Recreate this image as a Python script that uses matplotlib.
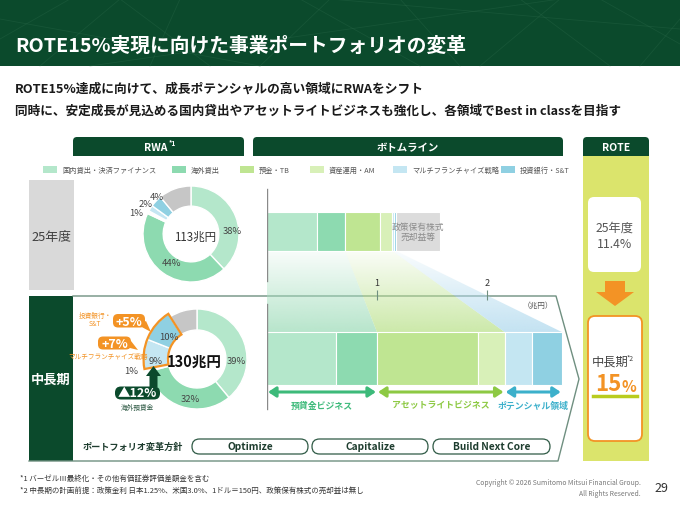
import numpy as np
import matplotlib
matplotlib.use("Agg")
import matplotlib.pyplot as plt
from matplotlib.patches import Rectangle, FancyBboxPatch, Polygon, Wedge
from matplotlib.colors import to_rgb

plt.rcParams['font.family'] = ['Noto Sans CJK JP', 'DejaVu Sans']

W, H = 680, 506
DG = "#0b4a2c"          # dark green
ORANGE = "#f39325"
FRAME = "#6f8f80"

# ---- data -------------------------------------------------------------
segments = ["国内貸出・決済ファイナンス", "海外貸出", "預金・TB", "資産運用・AM",
            "マルチフランチャイズ戦略", "投資銀行・S&T"]
seg_colors = ["#b4e7cb", "#8ddab0", "#bfe592", "#d8f0b8", "#c4e6f2", "#8fd0e2"]
other_pie = "#c6c6c6"
other_bar = "#dcdcdc"

# RWA mix (%), last value = その他
rwa_fy25 = [38, 44, 0.5, 0.5, 2, 4, 11]
rwa_mid = [39, 32, 0.5, 0.5, 9, 10, 9]
rwa_total = ["113兆円", "130兆円"]

# bottom line (兆円)
bl_fy25 = [0.45, 0.26, 0.32, 0.11, 0.01, 0.025]
bl_fy25_other = 0.40
bl_mid = [0.63, 0.37, 0.92, 0.24, 0.25, 0.27]
axis_ticks = [1, 2]

rote_fy25 = "11.4%"
rote_mid = "15"
business = ["預貸金ビジネス", "アセットライトビジネス", "ポテンシャル領域"]
business_colors = ["#3dba7a", "#8dc943", "#3cb0cb"]
business_groups = [(0, 2), (2, 4), (4, 6)]
pills = ["Optimize", "Capitalize", "Build Next Core"]

fig = plt.figure(figsize=(W / 100, H / 100), dpi=100)


def px_axes(x0, y0, x1, y1):
    return fig.add_axes([x0 / W, 1 - y1 / H, (x1 - x0) / W, (y1 - y0) / H])


def pixel_canvas():
    a = px_axes(0, 0, W, H)
    a.set_xlim(0, W)
    a.set_ylim(H, 0)
    a.axis("off")
    return a


bg = pixel_canvas()

# header band
bg.add_patch(Rectangle((0, 0), W, 67, fc=DG, ec="none"))
mesh = [[(0, 40), (70, 0)], [(40, 67), (120, 0)], [(120, 0), (210, 67)],
        [(180, 0), (150, 67)], [(260, 67), (330, 0)], [(300, 0), (420, 67)],
        [(400, 0), (460, 67)], [(480, 67), (560, 0)], [(520, 0), (610, 67)],
        [(600, 0), (680, 45)], [(640, 67), (680, 20)], [(0, 20), (260, 67)],
        [(330, 0), (680, 30)], [(90, 67), (560, 0)]]
for (x0, y0), (x1, y1) in mesh:
    bg.plot([x0, x1], [y0, y1], color="#2c6a4b", lw=0.6, alpha=0.35)
bg.text(15, 46, "ROTE15%実現に向けた事業ポートフォリオの変革", color="white",
        fontsize=14.2, fontweight="bold", va="center")

bg.text(15, 89, "ROTE15%達成に向けて、成長ポテンシャルの高い領域にRWAをシフト",
        fontsize=9.2, fontweight="bold", color="#1a1a1a", va="center")
bg.text(15, 111, "同時に、安定成長が見込める国内貸出やアセットライトビジネスも強化し、各領域でBest in classを目指す",
        fontsize=9.1, fontweight="bold", color="#1a1a1a", va="center")


# section headers
def header(x0, x1, label, dx=0):
    bg.add_patch(FancyBboxPatch((x0, 138), x1 - x0, 19,
                                boxstyle="round,pad=0,rounding_size=4", fc=DG, ec="none"))
    bg.add_patch(Rectangle((x0, 149), x1 - x0, 8, fc=DG, ec="none"))
    bg.text((x0 + x1) / 2 + dx, 148, label, color="white", fontsize=7.5,
            fontweight="bold", ha="center", va="center")


header(73, 244, "RWA", dx=-3)
bg.text(169, 143, "*1", color="white", fontsize=4.8, fontweight="bold", va="center")
header(253, 563, "ボトムライン")
# ROTE column
bg.add_patch(Rectangle((583, 155), 66, 307, fc="#dbe46c", ec="none"))
header(583, 649, "ROTE")

# legend
legend_x = [43, 172, 240, 310, 393, 501]
for x, lab, c in zip(legend_x, segments, seg_colors):
    bg.add_patch(Rectangle((x, 167), 14, 7, fc=c, ec="none"))
    bg.text(x + 19, 170.5, lab, fontsize=5.2, color="#555555", va="center")

# row labels
bg.add_patch(Rectangle((29, 181), 45, 110, fc="#d9d9d9", ec="none"))
bg.text(51.5, 237, "25年度", fontsize=9.3, color="#404040", ha="center", va="center")
bg.add_patch(Rectangle((29, 297), 44, 165, fc=DG, ec="none"))
bg.text(51, 380, "中長期", fontsize=9.5, color="white", fontweight="bold",
        ha="center", va="center")
bg.plot([73, 556, 579, 558, 29], [297, 297, 380, 462, 462], color=FRAME, lw=1)

# ---- bottom line bars ---------------------------------------------------
axb = px_axes(267, 180, 577, 415)
xmax = 310 / 110
y25, h25 = 232.5, 39
ymd, hmd = 359.5, 53

left = 0.0
for v, c in zip(bl_fy25, seg_colors):
    axb.barh(y25, v, left=left, height=h25, color=c, edgecolor="white", lw=0.8)
    left += v
axb.barh(y25, bl_fy25_other, left=left, height=h25, color=other_bar, edgecolor="white", lw=0.8)
axb.text(left + bl_fy25_other / 2, y25, "政策保有株式\n売却益等", fontsize=6.3,
         color="#8c8c8c", ha="center", va="center", linespacing=1.1)

left = 0.0
for v, c in zip(bl_mid, seg_colors):
    axb.barh(ymd, v, left=left, height=hmd, color=c, edgecolor="white", lw=0.8)
    left += v

cum25 = np.concatenate([[0], np.cumsum(bl_fy25)])
cummd = np.concatenate([[0], np.cumsum(bl_mid)])
ytop, ybot = y25 + h25 / 2, ymd - hmd / 2
funnel_colors = ["#a6dfbf", "#c0e495", "#b5dcef"]
for (a, b), c in zip(business_groups, funnel_colors):
    pts = [(cum25[a], ytop), (cum25[b], ytop), (cummd[b], ybot), (cummd[a], ybot)]
    poly = Polygon(pts, closed=True, fc="none", ec="none")
    axb.add_patch(poly)
    grad = np.zeros((100, 2, 4))
    grad[..., :3] = to_rgb(c)
    grad[..., 3] = np.linspace(0.08, 0.8, 100)[:, None]
    xs = [p[0] for p in pts]
    im = axb.imshow(grad, extent=(min(xs), max(xs), ybot, ytop), origin="upper",
                    aspect="auto", interpolation="bilinear", zorder=0)
    im.set_clip_path(poly)

axb.plot([0, 0], [190, 282], color="#8a8a8a", lw=1)
axb.plot([0, 0], [305, 410], color="#8a8a8a", lw=1)

for (a, b), c, lab in zip(business_groups, business_colors, business):
    axb.annotate("", xy=(cummd[b] - 0.01, 393), xytext=(cummd[a] + 0.01, 393),
                 arrowprops=dict(arrowstyle="<|-|>,head_length=0.45,head_width=0.3",
                                 color=c, lw=2.2, shrinkA=0, shrinkB=0))
    axb.text((cummd[a] + cummd[b]) / 2, 406, lab, fontsize=6.4, color=c,
             fontweight="bold", ha="center", va="center")
axb.set_xlim(0, xmax)
axb.set_ylim(415, 180)
axb.axis("off")

axx = px_axes(267, 296, 577, 296.3)
axx.set_xlim(0, xmax)
axx.set_xticks(axis_ticks)
axx.set_xticklabels([str(t) for t in axis_ticks])
axx.xaxis.set_ticks_position("top")
axx.tick_params(axis="x", direction="inout", length=7, width=0.8, color=FRAME,
                labelsize=6.5, labelcolor="#333333", pad=2)
axx.set_yticks([])
for s in axx.spines.values():
    s.set_visible(False)
axx.patch.set_alpha(0)

# ---- donuts -------------------------------------------------------------
def donut(vals, cx, cy, r):
    a = px_axes(cx - r, cy - r, cx + r, cy + r)
    wedges, _ = a.pie(vals, colors=seg_colors + [other_pie], startangle=90,
                      counterclock=False,
                      wedgeprops=dict(width=0.42, edgecolor="white", linewidth=1))
    a.set_xlim(-1, 1)
    a.set_ylim(-1, 1)
    a.axis("off")
    for w in wedges:
        w.set_clip_on(False)
    return a, wedges


donut(rwa_fy25, 191, 235, 48)
axm, wm = donut(rwa_mid, 197, 360, 50)
for w in wm[4:6]:
    w.set_radius(1.07)
    w.set_width(0.49)
t1 = min(w.theta1 for w in wm[4:6])
t2 = max(w.theta2 for w in wm[4:6])
axm.add_patch(Wedge((0, 0), 1.07, t1, t2, width=0.49, fc="none", ec=ORANGE,
                    lw=1.6, clip_on=False))

top = pixel_canvas()
lab_c = "#444444"
for txt, x, y in [("38%", 232, 232), ("44%", 172, 264), ("4%", 157, 197),
                  ("2%", 146, 204.5), ("1%", 136, 213)]:
    top.text(x, y, txt, fontsize=6.8, color=lab_c, ha="center", va="center")
top.text(195, 237, rwa_total[0], fontsize=8.3, color="#333333", ha="center", va="center")
for txt, x, y in [("39%", 236, 362), ("32%", 190, 400), ("10%", 169, 337),
                  ("9%", 156, 361), ("1%", 131, 371)]:
    top.text(x, y, txt, fontsize=6.8, color=lab_c, ha="center", va="center")
top.text(194, 362, rwa_total[1], fontsize=10.5, color="#111111", fontweight="bold",
         ha="center", va="center")

# callouts
top.add_patch(Polygon([(138, 326), (146, 322), (151, 333)], fc=ORANGE, ec="none"))
top.add_patch(FancyBboxPatch((113, 315), 32, 13.5, boxstyle="round,pad=0,rounding_size=5",
                             fc=ORANGE, ec="none"))
top.text(129, 322, "+5%", color="white", fontsize=9, fontweight="bold", ha="center", va="center")
top.add_patch(Polygon([(126, 348), (131, 342), (138, 351)], fc=ORANGE, ec="none"))
top.add_patch(FancyBboxPatch((98, 337.5), 33, 13, boxstyle="round,pad=0,rounding_size=5",
                             fc=ORANGE, ec="none"))
top.text(114.5, 344, "+7%", color="white", fontsize=9, fontweight="bold", ha="center", va="center")
top.text(95, 315.5, "投資銀行・", fontsize=4.8, color=ORANGE, ha="center", va="center")
top.text(95, 323.5, "S&T", fontsize=4.8, color=ORANGE, ha="center", va="center")
top.text(108, 357, "マルチフランチャイズ戦略", fontsize=4.8, color=ORANGE, ha="center", va="center")

top.add_patch(Polygon([(149.5, 388), (149.5, 377), (146, 377), (153.5, 367),
                       (161, 377), (157.5, 377), (157.5, 388)], fc=DG, ec="none"))
top.add_patch(FancyBboxPatch((115, 387.5), 45, 13, boxstyle="round,pad=0,rounding_size=6",
                             fc=DG, ec="none"))
top.text(137.5, 394, "▲12%", color="white", fontsize=9, fontweight="bold", ha="center", va="center")
top.text(137.5, 408, "海外預貸金", fontsize=4.8, color="#2f5a45", ha="center", va="center")

# portfolio policy row
top.text(83, 447.5, "ポートフォリオ変革方針", fontsize=6.6, fontweight="bold",
         color="#1e3d2f", va="center")
for (x0, x1), lab in zip([(192, 308), (312, 428), (433, 550)], pills):
    top.add_patch(FancyBboxPatch((x0, 440), x1 - x0, 15,
                                 boxstyle="round,pad=0,rounding_size=7.5",
                                 fc="white", ec="#2f5a45", lw=0.9))
    top.text((x0 + x1) / 2, 447.5, lab, fontsize=7.3, fontweight="bold",
             color="#1e3d2f", ha="center", va="center")
top.text(553, 306, "（兆円）", fontsize=5.5, color="#555555", ha="right", va="center")

# ROTE column contents
top.add_patch(FancyBboxPatch((588, 198), 53, 75, boxstyle="round,pad=0,rounding_size=6",
                             fc="white", ec="none"))
top.text(614.5, 228, "25年度", fontsize=8.8, color="#555555", ha="center", va="center")
top.text(614.5, 245, rote_fy25, fontsize=8.8, color="#555555", ha="center", va="center")
top.add_patch(Polygon([(605, 282), (625, 282), (625, 293), (634, 293), (615, 307),
                       (596, 293), (605, 293)], fc=ORANGE, ec="none"))
top.add_patch(FancyBboxPatch((588, 317), 54, 125, boxstyle="round,pad=0,rounding_size=7",
                             fc="white", ec=ORANGE, lw=1.3))
top.text(610, 362, "中長期", fontsize=8.8, color="#444444", ha="center", va="center")
top.text(627, 359, "*2", fontsize=5, color="#444444", va="center")
top.text(608, 385, rote_mid, fontsize=16, color=ORANGE, fontweight="bold",
         ha="center", va="center")
top.text(622, 387, "%", fontsize=11, color=ORANGE, fontweight="bold", va="center")
top.plot([593, 637], [397, 397], color="#b9cc1e", lw=2.5)

# footer
top.text(20, 479, "*1 バーゼルⅢ最終化・その他有価証券評価差額金を含む", fontsize=5.4,
         color="#333333", va="center")
top.text(20, 491, "*2 中長期の計画前提：政策金利 日本1.25%、米国3.0%、1ドル＝150円、政策保有株式の売却益は無し",
         fontsize=5.4, color="#333333", va="center")
top.text(641, 483, "Copyright © 2026 Sumitomo Mitsui Financial Group.", fontsize=4.9,
         color="#777777", ha="right", va="center")
top.text(641, 494, "All Rights Reserved.", fontsize=4.9, color="#777777",
         ha="right", va="center")
top.text(661, 489, "29", fontsize=9, color="#333333", ha="center", va="center")

fig.savefig("out.png", dpi=100)
